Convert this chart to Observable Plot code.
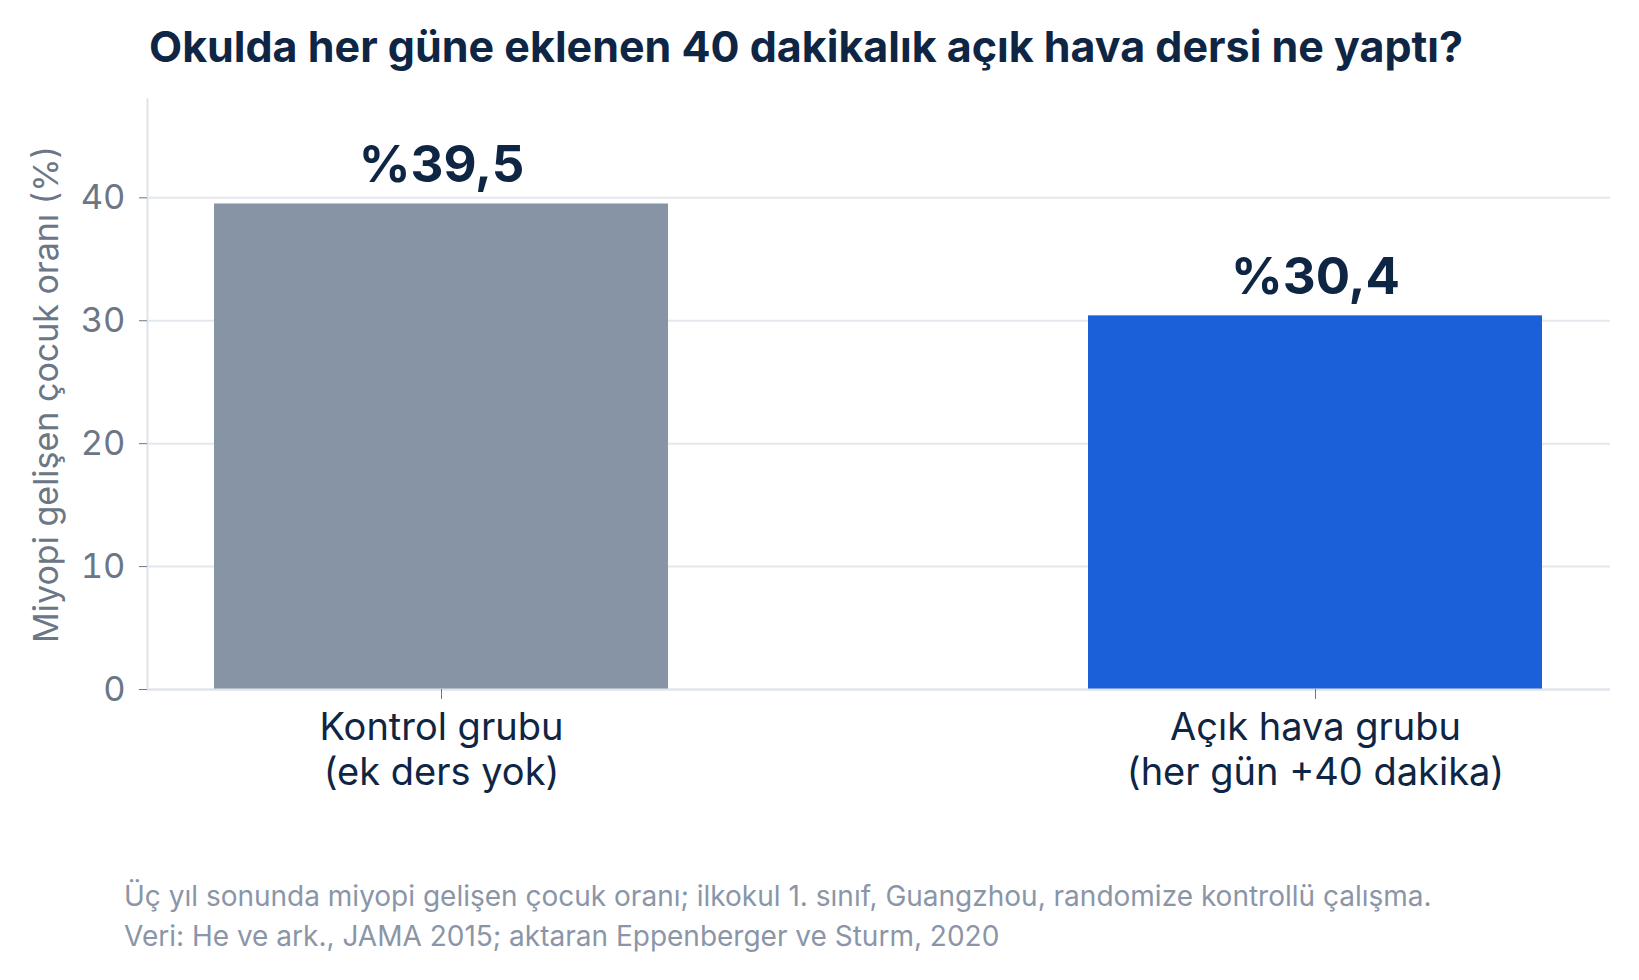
<!DOCTYPE html>
<html>
<head>
<meta charset="utf-8">
<script src="https://cdn.jsdelivr.net/npm/d3@7"></script>
<script src="https://cdn.jsdelivr.net/npm/@observablehq/plot@0.6"></script>
<style>
  body { margin: 0; background: #ffffff; font-family: Inter, "Noto Sans", sans-serif; }
  #title { height: 80px; box-sizing: border-box; padding-left: 149px; padding-top: 25px;
           font-size: 43px; font-weight: 700; color: #0f2544; line-height: 1; white-space: nowrap; }
  #chart svg { display: block; }
  #foot { margin-top: 67px; padding-left: 124px; font-size: 28px; line-height: 39.5px; color: #8a96a8; }
</style>
</head>
<body>
<div id="title">Okulda her güne eklenen 40 dakikalık açık hava dersi ne yaptı?</div>
<div id="chart"></div>
<div id="foot">Üç yıl sonunda miyopi gelişen çocuk oranı; ilkokul 1. sınıf, Guangzhou, randomize kontrollü çalışma.<br>Veri: He ve ark., JAMA 2015; aktaran Eppenberger ve Sturm, 2020</div>
<script>
const groups = ["Kontrol grubu\n(ek ders yok)", "Açık hava grubu\n(her gün +40 dakika)"];
const values = [39.5, 30.4];
const valueLabels = ["%39,5", "%30,4"];
const barColors = ["#8794a6", "#1c60d9"];
const yTicks = [0, 10, 20, 30, 40];
const yLabel = "Miyopi gelişen çocuk oranı (%)";

const data = groups.map((g, i) => ({ group: g, value: values[i], label: valueLabels[i], color: barColors[i] }));

const chart = Plot.plot({
  width: 1639,
  height: 730,
  marginTop: 19,
  marginBottom: 121,
  marginLeft: 147,
  marginRight: 29,
  style: { fontFamily: "Inter, 'Noto Sans', sans-serif", background: "#ffffff" },
  x: { domain: groups, paddingInner: 0.48, paddingOuter: 0.0765, label: null },
  y: { domain: [0, 48], label: null },
  marks: [
    Plot.gridY(yTicks, { stroke: "#e3e8ee", strokeOpacity: 1, strokeWidth: 2 }),
    Plot.barY(data, { x: "group", y: "value", fill: "color" }),
    Plot.ruleY([0], { stroke: "#dfe4ea", strokeWidth: 2 }),
    Plot.frame({ anchor: "left", stroke: "#dfe4ea", strokeWidth: 2 }),
    Plot.axisY(yTicks, { tickSize: 8, tickPadding: 14, fontSize: 34.5, fill: "#6b7686", stroke: "#6b7686", label: null }),
    Plot.axisX({ tickSize: 10, tickPadding: 8, fontSize: 38, lineHeight: 1.2, fill: "#0f2544", stroke: "#6b7686", label: null }),
    Plot.text([yLabel], { frameAnchor: "left", textAnchor: "middle", rotate: -90, dx: -100, fontSize: 34, fill: "#6b7686", text: d => d }),
    Plot.text(data, { x: "group", y: "value", text: "label", dy: -22, lineAnchor: "bottom", fontSize: 51, fontWeight: 700, fill: "#0f2544" })
  ]
});
document.getElementById("chart").append(chart);
</script>
</body>
</html>
